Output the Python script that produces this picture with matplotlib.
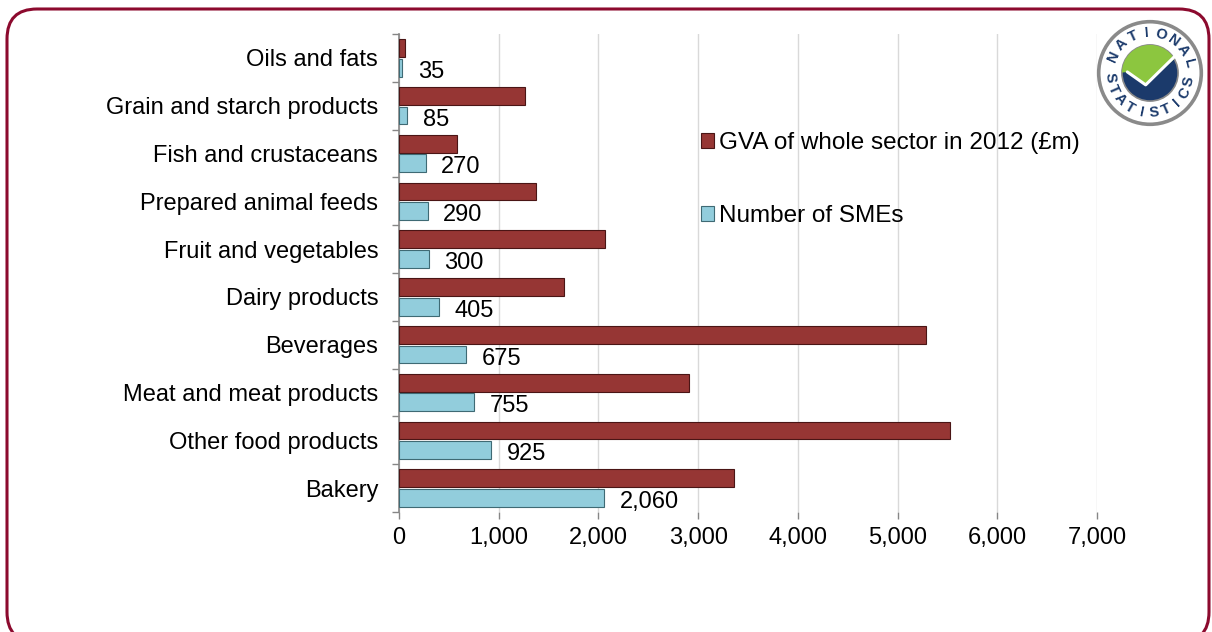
import numpy as np
import matplotlib.pyplot as plt
from matplotlib.patches import FancyBboxPatch, Circle, Patch, Polygon
from matplotlib.ticker import FuncFormatter, FixedLocator

plt.rcParams['font.family'] = ['Liberation Sans', 'DejaVu Sans']

# Data (top to bottom)
categories = ['Oils and fats', 'Grain and starch products', 'Fish and crustaceans',
              'Prepared animal feeds', 'Fruit and vegetables', 'Dairy products',
              'Beverages', 'Meat and meat products', 'Other food products', 'Bakery']
gva = [65, 1265, 580, 1375, 2065, 1655, 5285, 2910, 5525, 3360]
smes = [35, 85, 270, 290, 300, 405, 675, 755, 925, 2060]
xticks = [0, 1000, 2000, 3000, 4000, 5000, 6000, 7000]

red = '#963634'
blue = '#92CDDC'

fig = plt.figure(figsize=(12.12, 6.32), dpi=100)
ax = fig.add_axes([399 / 1212, 1 - 512 / 632, 698 / 1212, 478 / 632])

y = np.arange(len(categories))
h = 0.37
ax.barh(y - 0.205, gva, height=h, color=red, edgecolor='#4a1515', linewidth=0.8, zorder=3)
ax.barh(y + 0.205, smes, height=h, color=blue, edgecolor='#3f6a74', linewidth=0.8, zorder=3)

for yi, v in zip(y, smes):
    ax.annotate(f'{v:,}', (v, yi + 0.22), xytext=(11, -2.5), textcoords='offset points',
                ha='left', va='center', fontsize=17)

ax.set_xlim(0, 7000)
ax.set_ylim(len(categories) - 0.5, -0.5)
ax.set_xticks(xticks)
ax.xaxis.set_major_formatter(FuncFormatter(lambda v, p: f'{int(v):,}'))
ax.set_yticks(y)
ax.set_yticklabels(categories)
ax.yaxis.set_minor_locator(FixedLocator(np.arange(len(categories) + 1) - 0.5))
ax.tick_params(axis='y', which='major', length=0, pad=15, labelsize=17)
ax.tick_params(axis='y', which='minor', length=5, color='#868686', width=1)
ax.tick_params(axis='x', length=5, color='#868686', width=1, labelsize=17, pad=6)
ax.grid(axis='x', color='#d9d9d9', linewidth=1, zorder=0)
for s in ['top', 'right', 'bottom']:
    ax.spines[s].set_visible(False)
ax.spines['left'].set_color('#868686')
ax.spines['left'].set_linewidth(1.2)

handles = [Patch(facecolor=red, edgecolor='#4a1515', linewidth=0.8),
           Patch(facecolor=blue, edgecolor='#3f6a74', linewidth=0.8)]
fig.legend(handles, ['GVA of whole sector in 2012 (£m)', 'Number of SMEs'],
           loc='upper left', bbox_to_anchor=(701 / 1212, 1 - 132 / 632), frameon=False,
           fontsize=17.5, handlelength=0.55, handleheight=0.55, handletextpad=0.2,
           labelspacing=2.1, borderpad=0, borderaxespad=0)

# rounded border
border = FancyBboxPatch((0.07, -0.1), 12.02, 6.33,
                        boxstyle='round,pad=0,rounding_size=0.3',
                        transform=fig.dpi_scale_trans, fill=False,
                        edgecolor='#8C0A2E', linewidth=2.2, clip_on=False)
fig.patches.append(border)

# National Statistics logo
lax = fig.add_axes([1096 / 1212, 1 - 127 / 632, 108 / 1212, 108 / 632])
lax.set_xlim(-1, 1)
lax.set_ylim(-1, 1)
lax.set_aspect('equal')
lax.axis('off')
lax.add_patch(Circle((0, 0), 0.95, facecolor='white', edgecolor='#8a8a8a', linewidth=2.6))
lax.add_patch(Circle((0, 0), 0.52, facecolor='#1b3a6b', edgecolor='#8a8a8a', linewidth=1.2))
green = Polygon([[-0.6, 0.6], [-0.6, 0.0], [-0.4, 0.02], [-0.08, -0.2], [0.5, 0.3],
                 [0.6, 0.6]], facecolor='#8cc63f', edgecolor='none')
lax.add_patch(green)
green.set_clip_path(Circle((0, 0), 0.52, transform=lax.transData))
lax.plot([-0.42, -0.08, 0.47], [0.02, -0.22, 0.32], color='white', linewidth=2.2,
         solid_capstyle='round')
r = 0.74
top = 'NATIONAL'
for i, ch in enumerate(top):
    a = np.deg2rad(155 - i * (141 / (len(top) - 1)))
    lax.text(r * np.cos(a), r * np.sin(a), ch, rotation=np.rad2deg(a) - 90,
             ha='center', va='center', fontsize=10.5, fontweight='bold', color='#1b3a6b')
bot = 'STATISTICS'
for i, ch in enumerate(bot):
    a = np.deg2rad(186 + i * (162 / (len(bot) - 1)))
    lax.text(r * np.cos(a), r * np.sin(a), ch, rotation=np.rad2deg(a) + 90,
             ha='center', va='center', fontsize=10.5, fontweight='bold', color='#1b3a6b')

fig.savefig('out.png', dpi=100)
